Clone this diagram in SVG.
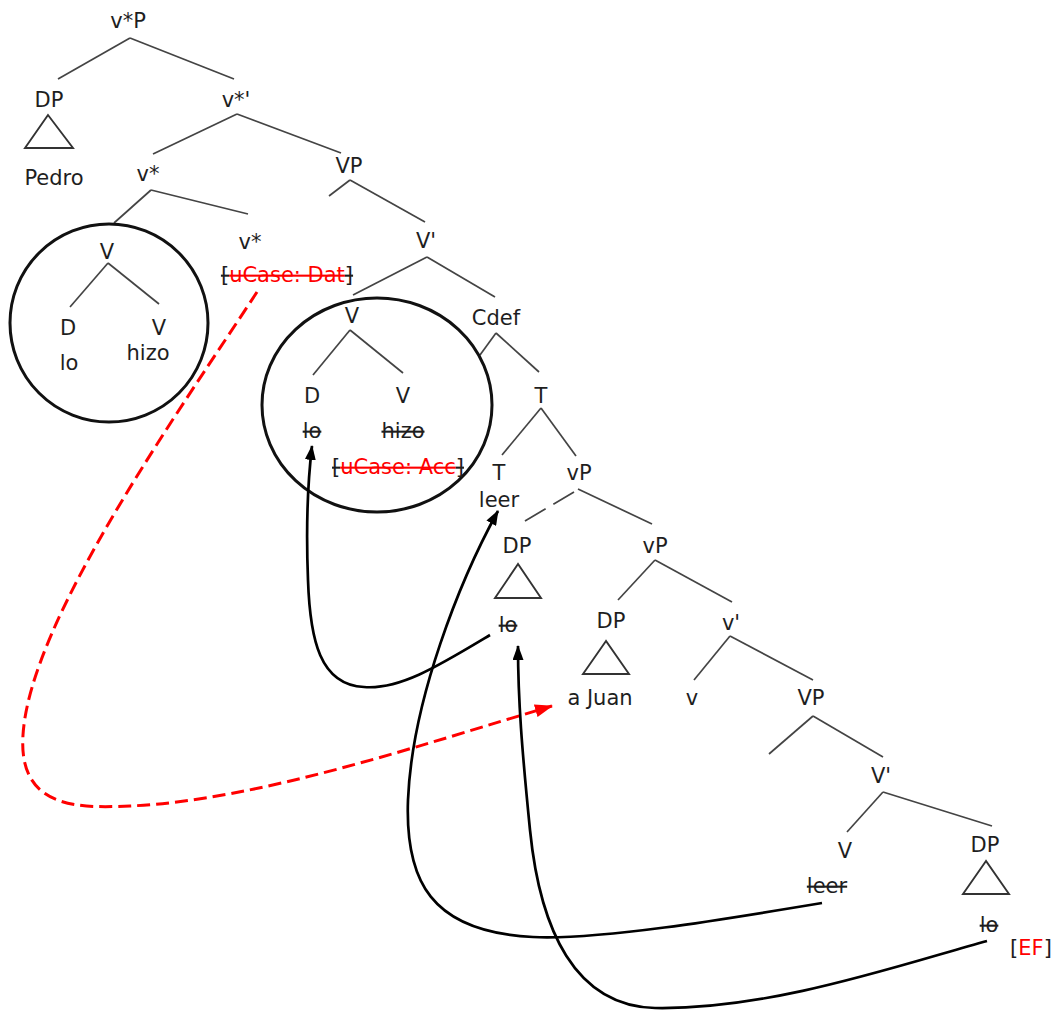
<svg xmlns="http://www.w3.org/2000/svg" width="1053" height="1012" viewBox="0 0 1053 1012">
<defs>
<style>
text{font-family:"DejaVu Sans","Verdana",sans-serif;font-size:21px;fill:#1e1e1e;text-anchor:middle}
.red{fill:#f00}
.strike{text-decoration:line-through}
.edge{stroke:#444;stroke-width:1.7;fill:none}
.tri{stroke:#333;stroke-width:1.9;fill:none}
.circ{stroke:#111;stroke-width:3;fill:none}
.mv{stroke:#000;stroke-width:2.7;fill:none}
.agree{stroke:#f00;stroke-width:3;fill:none;stroke-dasharray:13 6}
</style>
<marker id="ah" viewBox="0 0 15 11" refX="14" refY="5.5" markerWidth="15" markerHeight="11" markerUnits="userSpaceOnUse" orient="auto">
<path d="M0,0 L15,5.5 L0,11 Z" fill="#000"/>
</marker>
<marker id="ahr" viewBox="0 0 18 13" refX="17" refY="6.5" markerWidth="18" markerHeight="13" markerUnits="userSpaceOnUse" orient="auto">
<path d="M0,0 L18,6.5 L0,13 Z" fill="#f00"/>
</marker>
</defs>
<rect width="1053" height="1012" fill="#fff"/>

<g id="tree-edges">
<line class="edge" x1="130" y1="38" x2="58" y2="79"/>
<line class="edge" x1="130" y1="38" x2="234" y2="79"/>
<line class="edge" x1="237" y1="114" x2="153" y2="154"/>
<line class="edge" x1="237" y1="114" x2="341" y2="153"/>
<line class="edge" x1="151" y1="190" x2="114" y2="223"/>
<line class="edge" x1="151" y1="190" x2="248" y2="214"/>
<line class="edge" x1="350" y1="180" x2="329" y2="196"/>
<line class="edge" x1="350" y1="180" x2="425" y2="222"/>
<line class="edge" x1="108" y1="263" x2="70" y2="307"/>
<line class="edge" x1="108" y1="263" x2="159" y2="304"/>
<line class="edge" x1="427" y1="257" x2="353" y2="295"/>
<line class="edge" x1="427" y1="257" x2="495" y2="297"/>
<line class="edge" x1="350" y1="330" x2="313" y2="375"/>
<line class="edge" x1="350" y1="330" x2="403" y2="373"/>
<line class="edge" x1="496" y1="333" x2="480" y2="355"/>
<line class="edge" x1="496" y1="333" x2="539" y2="372"/>
<line class="edge" x1="541" y1="408" x2="502" y2="455"/>
<line class="edge" x1="541" y1="408" x2="576" y2="456"/>
<line class="edge" x1="574" y1="492" x2="520" y2="524" stroke-dasharray="24 9"/>
<line class="edge" x1="578" y1="489" x2="652" y2="524"/>
<line class="edge" x1="655" y1="560" x2="618" y2="600"/>
<line class="edge" x1="655" y1="560" x2="732" y2="602"/>
<line class="edge" x1="730" y1="636" x2="694" y2="680"/>
<line class="edge" x1="730" y1="636" x2="813" y2="680"/>
<line class="edge" x1="813" y1="716" x2="769" y2="754"/>
<line class="edge" x1="813" y1="716" x2="883" y2="757"/>
<line class="edge" x1="883" y1="792" x2="847" y2="832"/>
<line class="edge" x1="883" y1="792" x2="992" y2="826"/>
</g>

<g id="n-vstarP"><text x="128" y="28">v*P</text></g>
<g id="n-DP1"><text x="49" y="107">DP</text><polygon class="tri" points="48,115 25,148 73,148"/><text x="54" y="185">Pedro</text></g>
<g id="n-vstarbar"><text x="236" y="107">v*'</text></g>
<g id="n-vstar1"><text x="148" y="181">v*</text></g>
<g id="n-VP1"><text x="349" y="173">VP</text></g>
<g id="n-vstar2"><text x="250" y="249">v*</text>
<text x="287" y="282" font-size="20"><tspan class="strike">[</tspan><tspan class="red strike">uCase: Dat</tspan><tspan class="strike">]</tspan></text></g>
<g id="n-complex1"><ellipse class="circ" cx="109" cy="323" rx="99" ry="99"/>
<text x="107" y="259">V</text><text x="68" y="335">D</text><text x="159" y="335">V</text><text x="69" y="370">lo</text><text x="148" y="360">hizo</text></g>
<g id="n-Vbar1"><text x="426" y="248">V'</text></g>
<g id="n-complex2"><ellipse class="circ" cx="377" cy="405" rx="115" ry="107"/>
<text x="352" y="323">V</text><text x="312" y="403">D</text><text x="403" y="403">V</text>
<text x="312" y="438" class="strike">lo</text><text x="403" y="438" class="strike">hizo</text>
<text x="398" y="474" font-size="20"><tspan class="strike">[</tspan><tspan class="red strike">uCase: Acc</tspan><tspan class="strike">]</tspan></text></g>
<g id="n-Cdef"><text x="496" y="325">Cdef</text></g>
<g id="n-T1"><text x="541" y="403">T</text></g>
<g id="n-T2"><text x="499" y="480">T</text><text x="499" y="507">leer</text></g>
<g id="n-vP1"><text x="579" y="480">vP</text></g>
<g id="n-DP2"><text x="517" y="553">DP</text><polygon class="tri" points="518,564 495,598 541,598"/><text x="508" y="632" class="strike">lo</text></g>
<g id="n-vP2"><text x="655" y="553">vP</text></g>
<g id="n-DP3"><text x="611" y="628">DP</text><polygon class="tri" points="606,641 583,674 629,674"/><text x="600" y="705">a Juan</text></g>
<g id="n-vbar"><text x="731" y="630">v'</text></g>
<g id="n-v"><text x="692" y="705">v</text></g>
<g id="n-VP2"><text x="811" y="705">VP</text></g>
<g id="n-Vbar2"><text x="881" y="783">V'</text></g>
<g id="n-V"><text x="845" y="858">V</text><text x="827" y="893" class="strike">leer</text></g>
<g id="n-DP4"><text x="985" y="852">DP</text><polygon class="tri" points="986,861 963,894 1009,894"/><text x="989" y="932" class="strike">lo</text>
<text x="1031" y="955" font-size="20">[<tspan class="red">EF</tspan>]</text></g>

<g id="connectors">
<path class="agree" d="M257,292 C180,410 30,620 23,735 C18,810 80,808 130,806 C260,800 420,745 552,706" marker-end="url(#ahr)"/>
<path class="mv" d="M490,635 C440,665 400,690 364,687 C320,685 310,640 308,580 C306,530 308,480 312,446" marker-end="url(#ah)"/>
<path class="mv" d="M822,903 C720,920 600,940 533,937 C430,932 405,880 408,800 C412,700 460,580 498,511" marker-end="url(#ah)"/>
<path class="mv" d="M987,941 C900,965 770,1010 655,1008 C575,1006 540,930 530,830 C522,750 518,700 518,646" marker-end="url(#ah)"/>
</g>
</svg>
